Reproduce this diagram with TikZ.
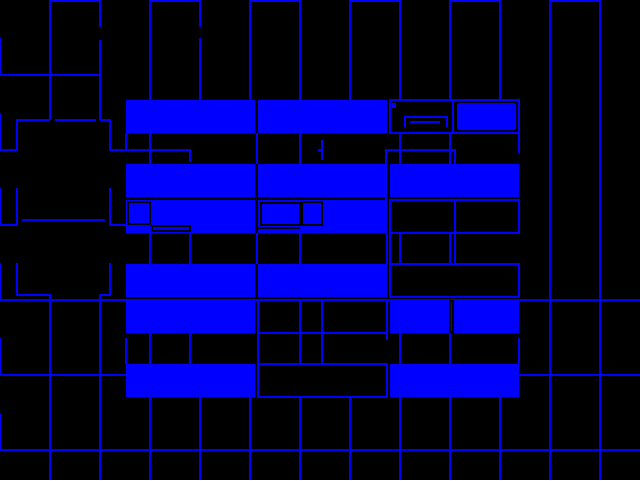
\documentclass[tikz,border=0pt]{standalone}
\definecolor{lineblue}{RGB}{0,0,255}
\tikzset{
  ln/.style={draw=lineblue,line width=1.3pt},
  cellfill/.style={fill=lineblue},
  hole/.style={draw=black,line width=1.3pt},
}
\begin{document}
\begin{tikzpicture}[x=1pt,y=-1pt]
\fill[black] (0,0) rectangle (640,480);
\useasboundingbox (0,0) rectangle (640,480);
% top open rectangles
\draw[ln] (50,120) -- (50,1) -- (100,1) -- (100,27);
\draw[ln] (100,40) -- (100,120);
\draw[ln] (150,100) -- (150,1) -- (200,1) -- (200,27);
\draw[ln] (200,38) -- (200,100);
\draw[ln] (250,100) -- (250,1) -- (300,1) -- (300,100);
\draw[ln] (350,100) -- (350,1) -- (400,1) -- (400,100);
\draw[ln] (450,100) -- (450,1) -- (500,1) -- (500,100);
\draw[ln] (550,480) -- (550,1) -- (600,1) -- (600,480);
% left side shapes
\draw[ln] (0,38) -- (0,75) -- (100,75);
\draw[ln] (0,113) -- (0,150) -- (17,150) -- (17,120) -- (50,120);
\draw[ln] (55,120) -- (96,120);
\draw[ln] (100,120) -- (110,120) -- (110,150) -- (190,150) -- (190,162);
\draw[ln] (126,133) -- (126,150);
\draw[ln] (0,188) -- (0,225) -- (17,225) -- (17,188);
\draw[ln] (22,220) -- (105,220);
\draw[ln] (110,188) -- (110,225) -- (126,225);
\draw[ln] (0,263) -- (0,300);
\draw[ln] (17,263) -- (17,295) -- (50,295) -- (50,480);
\draw[ln] (110,263) -- (110,295) -- (100,295) -- (100,480);
\draw[ln] (0,338) -- (0,375);
\draw[ln] (0,413) -- (0,450);
% horizontal grid lines
\draw[ln] (0,300) -- (640,300);
\draw[ln] (0,375) -- (126,375);
\draw[ln] (519,375) -- (640,375);
\draw[ln] (0,450) -- (640,450);
% bottom verticals
\foreach \xx in {150,200,250,300,350,400,500}{\draw[ln] (\xx,397) -- (\xx,480);}
\draw[ln] (450,397) -- (450,480);
% gap lines between table rows
\foreach \xx in {150,257,300,400,450}{\draw[ln] (\xx,133) -- (\xx,164);}
\draw[ln] (322,140) -- (322,160);
\draw[ln] (318,150) -- (322,150);
\draw[ln] (519,133) -- (519,153);
\draw[ln] (386,200) -- (386,150) -- (455,150) -- (455,164);
\foreach \xx in {150,190,257,300,387,390,400,450,455}{\draw[ln] (\xx,233) -- (\xx,264);}
\foreach \xx in {150,190,258,300,322,400,450}{\draw[ln] (\xx,333) -- (\xx,364);}
\draw[ln] (126,338) -- (126,364);
\draw[ln] (519,338) -- (519,364);
\draw[ln] (387,333) -- (387,340);
% row 1
\fill[cellfill] (126,100) rectangle (255,133);
\fill[cellfill] (258,100) rectangle (387,133);
\draw[ln] (390,100) rectangle (453,133);
\draw[ln] (453,100) rectangle (519,133);
\fill[cellfill,rounded corners=2pt] (457,103) rectangle (516,130);
\draw[ln] (405,127) -- (405,117) -- (447,117) -- (447,127);
\draw[ln] (410,122) -- (440,122);
\fill[lineblue] (392,103) rectangle (396,108);
% row 2
\fill[cellfill] (126,164) rectangle (255,197);
\fill[cellfill] (258,164) rectangle (387,197);
\fill[cellfill] (390,164) rectangle (519,197);
% row 3
\fill[cellfill] (126,200) rectangle (255,233);
\draw[hole] (128,202) rectangle (150,224);
\draw[hole] (152,226) rectangle (190,231);
\fill[cellfill] (258,200) rectangle (387,233);
\draw[hole] (261,203) rectangle (300,225);
\draw[hole] (302,202) rectangle (322,225);
\draw[hole] (258,228) -- (300,228);
\draw[ln] (390,200) rectangle (519,233);
\draw[ln] (455,200) -- (455,233);
% row 4
\fill[cellfill] (126,264) rectangle (255,297);
\fill[cellfill] (258,264) rectangle (387,297);
\draw[ln] (390,264) rectangle (519,297);
% row 5
\fill[cellfill] (126,300) rectangle (255,333);
\draw[ln] (258,300) rectangle (387,333);
\draw[ln] (300,300) -- (300,333);
\draw[ln] (322,300) -- (322,333);
\fill[cellfill] (390,300) rectangle (519,333);
\draw[hole] (450,301) rectangle (453,332);
% row 6
\fill[cellfill] (126,364) rectangle (255,397);
\draw[ln] (258,364) rectangle (387,397);
\fill[cellfill] (390,364) rectangle (519,397);
\end{tikzpicture}
\end{document}
